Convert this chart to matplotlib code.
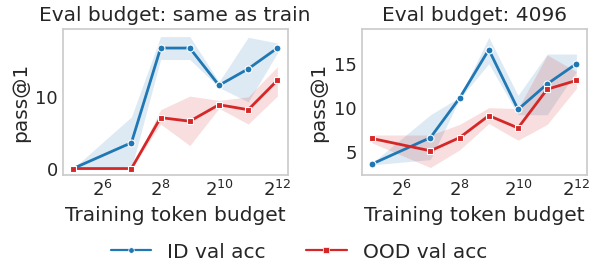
import numpy as np
import matplotlib
matplotlib.use('Agg')
import matplotlib.pyplot as plt
import seaborn as sns
from matplotlib.lines import Line2D
from matplotlib.ticker import FixedLocator, FixedFormatter, NullLocator

sns.set_theme(style='white', font_scale=1.0)
plt.rcParams['font.family'] = ['DejaVu Sans']

# training token budgets
budgets = [32, 128, 256, 512, 1024, 2048, 4096]

# left panel: eval budget same as train
left_id = [0.0, 3.6, 16.8, 16.8, 11.6, 13.9, 16.8]
left_id_lo = [0.0, 0.0, 15.2, 15.2, 11.3, 9.3, 16.1]
left_id_hi = [0.0, 7.2, 18.4, 18.4, 12.1, 18.3, 17.5]
left_ood = [0.0, 0.0, 7.1, 6.6, 8.9, 8.2, 12.3]
left_ood_lo = [0.0, 0.0, 6.2, 3.2, 8.4, 6.2, 10.1]
left_ood_hi = [0.0, 0.0, 8.2, 10.1, 9.5, 10.0, 14.2]

# right panel: eval budget 4096
right_id = [3.6, 6.6, 11.1, 16.6, 9.8, 12.7, 15.0]
right_id_lo = [3.5, 4.1, 11.0, 15.0, 9.2, 9.2, 14.1]
right_id_hi = [3.7, 9.2, 11.2, 18.0, 11.4, 16.1, 16.1]
right_ood = [6.5, 5.1, 6.6, 9.1, 7.7, 12.1, 13.1]
right_ood_lo = [6.0, 3.2, 5.2, 8.2, 6.3, 8.1, 12.2]
right_ood_hi = [6.9, 6.9, 8.1, 10.0, 9.9, 16.0, 14.1]

titles = ['Eval budget: same as train', 'Eval budget: 4096']
blue = '#1f77b4'
red = '#d62728'

fig, axes = plt.subplots(1, 2, figsize=(5.98, 2.8), dpi=100)
fig.subplots_adjust(left=0.105, right=0.981, top=0.895, bottom=0.375, wspace=0.33)

panels = [
    (left_id, left_id_lo, left_id_hi, left_ood, left_ood_lo, left_ood_hi, [0, 10]),
    (right_id, right_id_lo, right_id_hi, right_ood, right_ood_lo, right_ood_hi, [5, 10, 15]),
]

for ax, title, (idv, idlo, idhi, oodv, oodlo, oodhi, yt) in zip(axes, titles, panels):
    ax.fill_between(budgets, idlo, idhi, color=blue, alpha=0.15, linewidth=0)
    ax.fill_between(budgets, oodlo, oodhi, color=red, alpha=0.15, linewidth=0)
    ax.plot(budgets, idv, color=blue, marker='o', markersize=5, markeredgecolor='white',
            markeredgewidth=0.8, linewidth=2)
    ax.plot(budgets, oodv, color=red, marker='s', markersize=5, markeredgecolor='white',
            markeredgewidth=0.8, linewidth=2)
    ax.set_xscale('log', base=2)
    ax.xaxis.set_major_locator(FixedLocator([64, 256, 1024, 4096]))
    ax.xaxis.set_major_formatter(FixedFormatter(['$2^{6}$', '$2^{8}$', '$2^{10}$', '$2^{12}$']))
    ax.xaxis.set_minor_locator(NullLocator())
    ax.set_yticks(yt)
    ax.set_title(title, fontsize=14.5)
    ax.set_xlabel('Training token budget', fontsize=14.5)
    ax.set_ylabel('pass@1', fontsize=14.5)
    ax.tick_params(labelsize=13, length=0)
    for s in ax.spines.values():
        s.set_color('#cccccc')

axes[0].set_ylim(-0.9, 19.4)
axes[1].set_ylim(2.35, 18.9)

handles = [
    Line2D([], [], color=blue, marker='o', markersize=4, markeredgecolor='white',
           markeredgewidth=0.5, linewidth=1.6),
    Line2D([], [], color=red, marker='s', markersize=4, markeredgecolor='white',
           markeredgewidth=0.5, linewidth=1.6),
]
fig.legend(handles, ['ID val acc', 'OOD val acc'], loc='center', ncol=2, frameon=False,
           fontsize=14.5, bbox_to_anchor=(0.5, 0.1), columnspacing=2.0)

fig.savefig('out.png', dpi=100)
